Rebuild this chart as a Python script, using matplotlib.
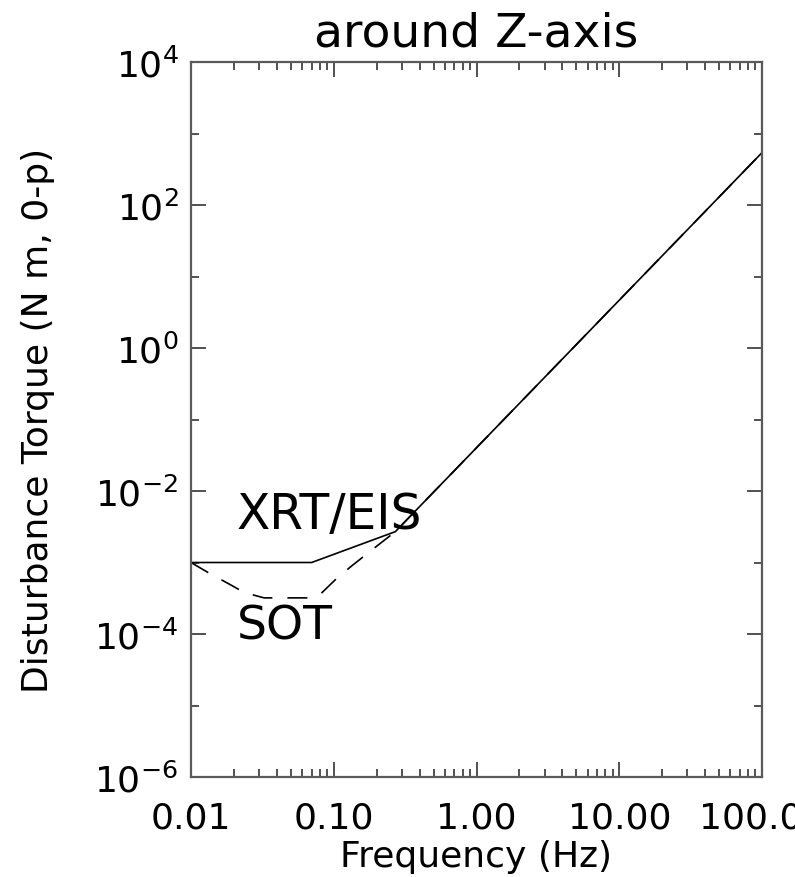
import numpy as np
import matplotlib
matplotlib.use('Agg')
import matplotlib.pyplot as plt
from matplotlib.ticker import FixedLocator, FuncFormatter, NullFormatter

# XRT/EIS allowable disturbance torque (solid)
xrt_freq = [0.01, 0.07, 0.27, 100.0]
xrt_torque = [1.0e-3, 1.0e-3, 2.7e-3, 540.0]

# SOT allowable disturbance torque (dashed)
sot_freq = [0.01, 0.0134, 0.0185, 0.0236, 0.0325, 0.0673, 0.0817, 0.104, 0.133, 0.208, 0.27, 100.0]
sot_torque = [1.0e-3, 7.1e-4, 5.0e-4, 3.8e-4, 3.2e-4, 3.2e-4, 3.7e-4, 5.9e-4, 8.9e-4, 1.8e-3, 2.7e-3, 540.0]

x_major = [0.01, 0.1, 1.0, 10.0, 100.0]
y_major = [1e-6, 1e-4, 1e-2, 1e0, 1e2, 1e4]
y_minor = [1e-5, 1e-3, 1e-1, 1e1, 1e3]

plt.rcParams['font.family'] = ['DejaVu Sans']
plt.rcParams['mathtext.fontset'] = 'dejavusans'

fig = plt.figure(figsize=(7.95, 8.78), dpi=100)
ax = fig.add_axes([191 / 795, 1 - 778 / 878, (762 - 191) / 795, (778 - 63) / 878])

ax.plot(xrt_freq, xrt_torque, color='black', lw=1.2, solid_joinstyle='miter')
ax.plot(sot_freq, sot_torque, color='black', lw=1.2, dashes=(12, 9))

ax.set_xscale('log')
ax.set_yscale('log')
ax.set_xlim(0.01, 100)
ax.set_ylim(1e-6, 1e4)

ax.xaxis.set_major_locator(FixedLocator(x_major))
ax.xaxis.set_major_formatter(FuncFormatter(lambda v, p: '%.2f' % v))
ax.xaxis.set_minor_formatter(NullFormatter())
ax.yaxis.set_major_locator(FixedLocator(y_major))
ax.yaxis.set_minor_locator(FixedLocator(y_minor))
ax.yaxis.set_major_formatter(FuncFormatter(lambda v, p: r'$10^{%d}$' % int(round(np.log10(v)))))
ax.yaxis.set_minor_formatter(NullFormatter())

ax.tick_params(which='both', direction='in', top=True, right=True, colors='#333333')
ax.tick_params(which='major', length=11, width=1.2, labelsize=26)
ax.tick_params(which='minor', length=6, width=1.2)
ax.tick_params(axis='x', which='major', pad=17)
ax.tick_params(axis='y', which='major', pad=9)
for lab in ax.get_xticklabels() + ax.get_yticklabels():
    lab.set_color('black')

for s in ax.spines.values():
    s.set_color('#5a5a5a')
    s.set_linewidth(1.6)

ax.set_title('around Z-axis', fontsize=34, pad=12)
ax.set_xlabel('Frequency (Hz)', fontsize=26, labelpad=3)
ax.set_ylabel('Disturbance Torque (N m, 0-p)', fontsize=26, labelpad=28)

ax.text(0.021, 4.8e-3, 'XRT/EIS', fontsize=35, va='center', ha='left')
ax.text(0.021, 1.3e-4, 'SOT', fontsize=34, va='center', ha='left')

fig.savefig('out.png', dpi=100)
